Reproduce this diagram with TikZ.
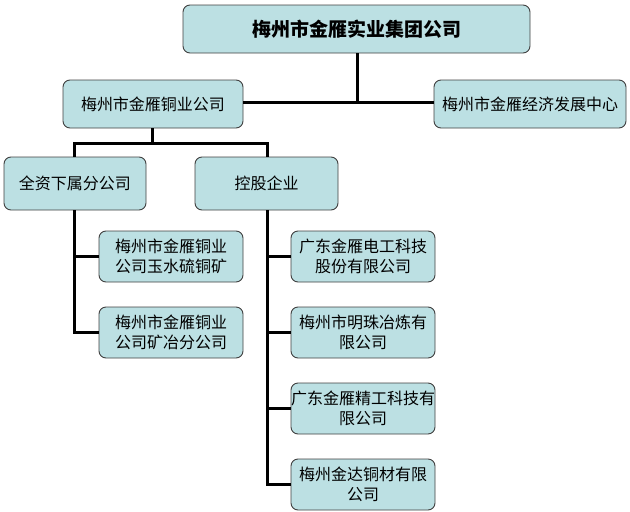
\documentclass[tikz,border=0pt]{standalone}
\usepackage{fontspec}
\newfontfamily\cjk{Noto Sans CJK SC}
\begin{document}
\begin{tikzpicture}[x=1pt,y=-1pt,
  orgbox/.style={draw=black!75,line width=0.9pt,fill=boxfill,rounded corners=7pt,
    align=center,inner sep=0pt,font=\cjk\fontsize{16}{20}\selectfont},
  link/.style={line width=3pt,black}]
\definecolor{boxfill}{HTML}{BCE0E3}
\useasboundingbox (0,0) rectangle (630,512);
\node[orgbox,minimum width=347pt,minimum height=48pt,font=\cjk\bfseries\fontsize{19}{22}\selectfont] (top) at (356.5,29) {梅州市金雁实业集团公司};
\node[orgbox,minimum width=180pt,minimum height=48pt] (tongye) at (153,104) {梅州市金雁铜业公司};
\node[orgbox,minimum width=192pt,minimum height=48pt] (jingji) at (530,104) {梅州市金雁经济发展中心};
\node[orgbox,minimum width=142pt,minimum height=53pt] (quanzi) at (75,183.5) {全资下属分公司};
\node[orgbox,minimum width=143pt,minimum height=53pt] (konggu) at (266.5,183.5) {控股企业};
\node[orgbox,minimum width=144pt,minimum height=51pt] (yushui) at (171,256.5) {梅州市金雁铜业\\公司玉水硫铜矿};
\node[orgbox,minimum width=144pt,minimum height=51pt] (kuangye) at (171,332.5) {梅州市金雁铜业\\公司矿冶分公司};
\node[orgbox,minimum width=144pt,minimum height=51pt] (diangong) at (363,256.5) {广东金雁电工科技\\股份有限公司};
\node[orgbox,minimum width=144pt,minimum height=51pt] (mingzhu) at (363,332.5) {梅州市明珠冶炼有\\限公司};
\node[orgbox,minimum width=144pt,minimum height=51pt] (jinggong) at (363,408.5) {广东金雁精工科技有\\限公司};
\node[orgbox,minimum width=144pt,minimum height=51pt] (jinda) at (363,484.5) {梅州金达铜材有限\\公司};
\coordinate (hub) at (357,102);
\coordinate (split) at (152,143);
\draw[link] (top.south -| hub) -- (hub);
\draw[link] (tongye.east |- hub) -- (jingji.west |- hub);
\draw[link] (tongye.south -| split) -- (split);
\draw[link] (quanzi.north -| 74,0) |- (split) -| (konggu.north -| 267,0);
\draw[link] (quanzi.south -| 74,0) |- (kuangye.west);
\draw[link] (yushui.west -| 74,0) -- (yushui.west);
\draw[link] (konggu.south -| 267,0) |- (jinda.west);
\draw[link] (diangong.west -| 267,0) -- (diangong.west);
\draw[link] (mingzhu.west -| 267,0) -- (mingzhu.west);
\draw[link] (jinggong.west -| 267,0) -- (jinggong.west);
\end{tikzpicture}
\end{document}
